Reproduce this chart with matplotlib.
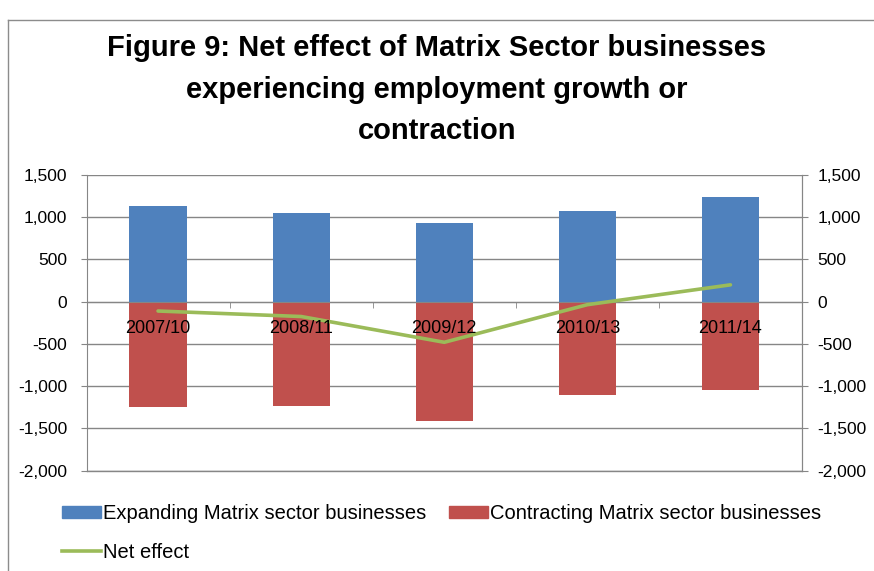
import matplotlib
matplotlib.use("Agg")
import matplotlib.pyplot as plt
from matplotlib.patches import Patch
from matplotlib.lines import Line2D
import numpy as np

# Data
periods = ["2007/10", "2008/11", "2009/12", "2010/13", "2011/14"]
expanding = [1135, 1055, 935, 1070, 1240]
contracting = [-1245, -1230, -1415, -1105, -1040]
net_effect = [-110, -175, -480, -35, 200]
y_ticks = [1500, 1000, 500, 0, -500, -1000, -1500, -2000]

plt.rcParams["font.family"] = ["Liberation Sans", "DejaVu Sans"]

W, H = 874, 571
fig = plt.figure(figsize=(W / 100, H / 100), dpi=100)
fig.patch.set_facecolor("white")

left, right, top, bottom = 86.5, 802, 175, 470.7
ax = fig.add_axes([left / W, 1 - bottom / H, (right - left) / W, (bottom - top) / H])

BLUE = "#4F81BD"
RED = "#C0504D"
GREEN = "#9BBB59"
GRID = "#868686"

x = np.arange(len(periods))
ax.bar(x, expanding, width=0.4, color=BLUE, zorder=2)
ax.bar(x, contracting, width=0.4, color=RED, zorder=2)
ax.plot(x, net_effect, color=GREEN, lw=2.6, zorder=4, solid_capstyle="round")

ax.set_xlim(-0.5, len(periods) - 0.5)
ax.set_ylim(-2000, 1500)
ax.set_yticks(y_ticks)
ax.set_yticklabels([f"{v:,}" for v in y_ticks], fontsize=12.5)
ax.yaxis.grid(True, color=GRID, lw=1.0, zorder=0)
ax.set_axisbelow(True)
ax.tick_params(axis="y", length=4, color=GRID, pad=10)
ax.axhline(-2000, color=GRID, lw=1.0, clip_on=False, zorder=1)

# category axis sits on the zero line, labels drawn over the bars
ax.spines["bottom"].set_position(("data", 0))
ax.spines["bottom"].set_color(GRID)
ax.spines["bottom"].set_zorder(3)
ax.spines["top"].set_visible(False)
ax.spines["left"].set_color(GRID)
ax.spines["right"].set_color(GRID)
ax.set_xticks(x)
ax.set_xticklabels(periods, fontsize=13)
ax.set_xticks(np.arange(-0.5, len(periods), 1.0), minor=True)
ax.tick_params(axis="x", which="major", length=0, pad=13)
ax.tick_params(axis="x", which="minor", length=4, color=GRID)
ax.xaxis.set_zorder(5)

ax2 = ax.twinx()
ax2.set_ylim(ax.get_ylim())
ax2.set_yticks(y_ticks)
ax2.set_yticklabels([f"{v:,}" for v in y_ticks], fontsize=12.5)
ax2.tick_params(axis="y", length=4, color=GRID, pad=7)
for s in ["top", "left", "bottom"]:
    ax2.spines[s].set_visible(False)
ax2.spines["right"].set_color(GRID)

# Title
title_lines = ["Figure 9: Net effect of Matrix Sector businesses",
               "experiencing employment growth or",
               "contraction"]
for line, yc in zip(title_lines, [48, 90, 131]):
    fig.text(0.5, 1 - yc / H, line, ha="center", va="center",
             fontsize=21, fontweight="bold")

# Chart frame
fig.add_artist(Line2D([8 / W, 8 / W], [0, 1 - 20 / H], transform=fig.transFigure,
                      color="#8C8C8C", lw=1.0))
fig.add_artist(Line2D([8 / W, 1], [1 - 20 / H, 1 - 20 / H], transform=fig.transFigure,
                      color="#8C8C8C", lw=1.0))

# Legend
handles = [Patch(color=BLUE, label="Expanding Matrix sector businesses"),
           Line2D([], [], color=GREEN, lw=2.6, label="Net effect"),
           Patch(color=RED, label="Contracting Matrix sector businesses")]
fig.legend(handles=handles, ncol=2, loc="upper left",
           bbox_to_anchor=(62 / W, 1 - 504 / H), frameon=False, fontsize=14.5,
           handlelength=1.95, handleheight=0.6, handletextpad=0.1,
           columnspacing=1.1, labelspacing=1.0, borderpad=0, borderaxespad=0)

fig.savefig("out.png", dpi=100, facecolor="white")
